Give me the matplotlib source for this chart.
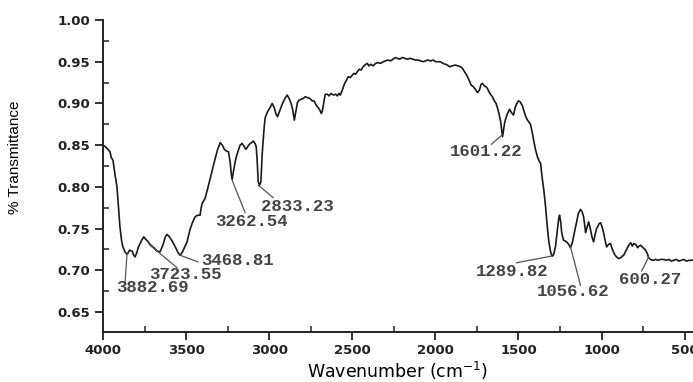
import numpy as np
import matplotlib
matplotlib.use('Agg')
import matplotlib.pyplot as plt
from matplotlib.ticker import MultipleLocator

# FTIR spectrum (wavenumber cm^-1, transmittance)
wavenumber = [
    4000, 3985, 3970, 3958, 3950, 3940, 3928, 3916, 3905, 3898, 3888, 3880, 3868, 3855, 3840,
    3825, 3815, 3807, 3795, 3789, 3770, 3755, 3747, 3732, 3717, 3700, 3688, 3675, 3657, 3640,
    3625, 3615, 3600, 3584, 3565, 3548, 3536, 3522, 3508, 3494, 3485, 3476, 3462, 3446, 3430,
    3416, 3410, 3404, 3392, 3386, 3370, 3355, 3340, 3325, 3310, 3295, 3282, 3270, 3258, 3245,
    3235, 3228, 3223, 3215, 3205, 3195, 3187, 3175, 3163, 3150, 3140, 3133, 3124, 3114, 3105,
    3096, 3085, 3078, 3072, 3066, 3058, 3050, 3042, 3036, 3030, 3024, 3010, 2995, 2982, 2970,
    2960, 2950, 2935, 2920, 2905, 2892, 2880, 2867, 2858, 2849, 2840, 2830, 2820, 2808, 2795,
    2783, 2770, 2755, 2742, 2730, 2718, 2705, 2695, 2687, 2681, 2670, 2663, 2650, 2640, 2628,
    2614, 2600, 2590, 2580, 2572, 2560, 2548, 2535, 2524, 2512, 2500, 2490, 2480, 2470, 2458,
    2447, 2435, 2425, 2410, 2400, 2390, 2374, 2360, 2345, 2330, 2313, 2300, 2285, 2270, 2255,
    2240, 2229, 2215, 2200, 2185, 2170, 2151, 2135, 2120, 2105, 2090, 2072, 2060, 2045, 2030,
    2012, 2000, 1985, 1970, 1955, 1940, 1928, 1915, 1900, 1880, 1865, 1849, 1837, 1825, 1815,
    1807, 1795, 1785, 1771, 1760, 1747, 1735, 1725, 1717, 1705, 1695, 1687, 1675, 1665, 1657,
    1645, 1635, 1627, 1618, 1608, 1600, 1596, 1590, 1584, 1578, 1566, 1554, 1542, 1530, 1520,
    1510, 1500, 1490, 1476, 1466, 1456, 1446, 1438, 1428, 1418, 1408, 1398, 1386, 1376, 1367,
    1357, 1347, 1337, 1328, 1319, 1310, 1301, 1295, 1287, 1277, 1266, 1258, 1253, 1246, 1240,
    1229, 1218, 1205, 1195, 1187, 1175, 1163, 1151, 1140, 1127, 1117, 1108, 1100, 1096, 1087,
    1078, 1068, 1058, 1048, 1040, 1030, 1024, 1015, 1006, 997, 988, 980, 970, 958, 946,
    935, 922, 910, 898, 885, 875, 867, 852, 837, 825, 815, 807, 795, 783, 775,
    765, 750, 735, 725, 717, 705, 695, 687, 675, 660, 645, 627, 610, 595, 580,
    566, 550, 535, 520, 505, 490, 470, 450,
]
transmittance = [
    0.850, 0.848, 0.845, 0.842, 0.835, 0.832, 0.815, 0.800, 0.770, 0.752, 0.735, 0.728, 0.722, 0.719, 0.724,
    0.723, 0.718, 0.716, 0.722, 0.727, 0.735, 0.740, 0.738, 0.735, 0.731, 0.728, 0.726, 0.723, 0.722, 0.730,
    0.740, 0.743, 0.740, 0.735, 0.728, 0.721, 0.718, 0.722, 0.728, 0.734, 0.742, 0.749, 0.757, 0.764, 0.766,
    0.766, 0.774, 0.780, 0.784, 0.786, 0.798, 0.810, 0.822, 0.834, 0.845, 0.853, 0.850, 0.845, 0.843, 0.842,
    0.830, 0.815, 0.809, 0.818, 0.830, 0.838, 0.843, 0.850, 0.852, 0.848, 0.845, 0.847, 0.850, 0.852, 0.853,
    0.855, 0.852, 0.848, 0.830, 0.806, 0.802, 0.806, 0.840, 0.856, 0.872, 0.883, 0.890, 0.895, 0.900, 0.895,
    0.888, 0.884, 0.892, 0.900, 0.906, 0.910, 0.906, 0.899, 0.892, 0.880, 0.890, 0.901, 0.904, 0.905, 0.906,
    0.908, 0.907, 0.906, 0.903, 0.903, 0.898, 0.895, 0.892, 0.888, 0.890, 0.903, 0.911, 0.911, 0.909, 0.912,
    0.910, 0.911, 0.909, 0.912, 0.910, 0.916, 0.923, 0.928, 0.932, 0.931, 0.934, 0.936, 0.935, 0.938, 0.941,
    0.940, 0.944, 0.946, 0.948, 0.945, 0.947, 0.945, 0.948, 0.949, 0.948, 0.950, 0.951, 0.952, 0.951, 0.953,
    0.955, 0.954, 0.953, 0.955, 0.954, 0.953, 0.954, 0.953, 0.952, 0.952, 0.951, 0.950, 0.951, 0.952, 0.951,
    0.952, 0.950, 0.950, 0.950, 0.948, 0.947, 0.946, 0.944, 0.945, 0.946, 0.945, 0.944, 0.942, 0.938, 0.935,
    0.932, 0.927, 0.922, 0.920, 0.917, 0.913, 0.916, 0.923, 0.924, 0.921, 0.920, 0.918, 0.913, 0.910, 0.908,
    0.903, 0.900, 0.895, 0.888, 0.879, 0.866, 0.860, 0.868, 0.876, 0.881, 0.888, 0.893, 0.889, 0.886, 0.895,
    0.900, 0.903, 0.902, 0.897, 0.890, 0.884, 0.880, 0.878, 0.875, 0.866, 0.855, 0.845, 0.836, 0.831, 0.828,
    0.810, 0.795, 0.776, 0.755, 0.737, 0.725, 0.718, 0.717, 0.720, 0.729, 0.748, 0.762, 0.766, 0.758, 0.745,
    0.736, 0.735, 0.733, 0.730, 0.727, 0.734, 0.746, 0.757, 0.768, 0.773, 0.770, 0.764, 0.752, 0.745, 0.752,
    0.758, 0.750, 0.740, 0.734, 0.742, 0.750, 0.752, 0.756, 0.757, 0.752, 0.745, 0.737, 0.728, 0.731, 0.732,
    0.725, 0.719, 0.716, 0.714, 0.715, 0.717, 0.718, 0.724, 0.730, 0.733, 0.729, 0.732, 0.731, 0.727, 0.729,
    0.730, 0.727, 0.724, 0.720, 0.715, 0.713, 0.712, 0.712, 0.713, 0.712, 0.713, 0.713, 0.712, 0.713, 0.711,
    0.712, 0.713, 0.711, 0.712, 0.713, 0.711, 0.712, 0.712,
]

# peak labels: text, point on curve, end of leader, text centre
peak_labels = ['3882.69', '3723.55', '3468.81', '3262.54', '2833.23',
               '1601.22', '1289.82', '1056.62', '600.27']
peak_points = [(3855, 0.721), (3717, 0.730), (3536, 0.718), (3223, 0.808), (3066, 0.802),
               (1600, 0.862), (1301, 0.717), (1187, 0.728), (717, 0.716)]
leader_ends = [(3867, 0.686), (3554, 0.703), (3428, 0.710), (3145, 0.769), (2976, 0.787),
               (1663, 0.851), (1512, 0.709), (1127, 0.682), (759, 0.699)]
text_pos = [(3705, 0.679), (3506, 0.695), (3193, 0.712), (3108, 0.758), (2831, 0.776),
            (1693, 0.842), (1536, 0.698), (1169, 0.674), (705, 0.689)]

plt.rcParams['font.family'] = 'DejaVu Sans'

fig = plt.figure(figsize=(6.93, 3.82), dpi=100)
ax = fig.add_axes([103 / 693, 1 - 332 / 382, 590 / 693, 312 / 382])

ax.plot(wavenumber, transmittance, color='#1a1a1a', linewidth=1.2)

for lab, p, e, t in zip(peak_labels, peak_points, leader_ends, text_pos):
    ax.plot([p[0], e[0]], [p[1], e[1]], color='#555555', linewidth=0.9)
    ax.text(t[0], t[1], lab, family='Liberation Mono', fontsize=12.5, weight='bold',
            color='#444444', ha='center', va='center')

ax.set_xlim(4000, 450)
ax.set_ylim(0.626, 1.0)

for s in ['top', 'right']:
    ax.spines[s].set_visible(False)
for s in ['left', 'bottom']:
    ax.spines[s].set_linewidth(1.4)
    ax.spines[s].set_color('#222222')

ax.xaxis.set_major_locator(MultipleLocator(500))
ax.xaxis.set_minor_locator(MultipleLocator(250))
ax.yaxis.set_minor_locator(MultipleLocator(0.025))
ax.tick_params(which='major', direction='out', length=6, width=1.3, labelsize=9.5,
               colors='#222222', pad=3)
ax.tick_params(which='minor', direction='in', length=4, width=1.1, colors='#222222')
yt = np.arange(0.65, 1.001, 0.05)
ax.set_yticks(yt)
ax.set_yticklabels(['%.2f' % v for v in yt])
for lbl in ax.get_xticklabels() + ax.get_yticklabels():
    lbl.set_fontweight('bold')

ax.set_xlabel('Wavenumber (cm$^{-1}$)', fontsize=12.5, labelpad=2)
ax.set_ylabel('% Transmittance', fontsize=11, family='Liberation Sans')
ax.yaxis.set_label_coords(-0.137, 0.56)

fig.savefig('out.png', dpi=100)
